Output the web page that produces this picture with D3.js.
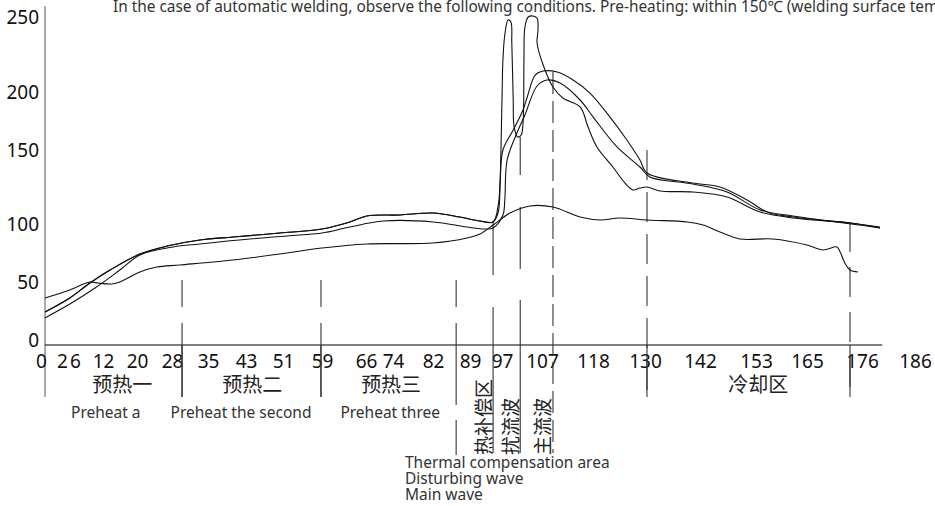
<!DOCTYPE html>
<html>
<head>
<meta charset="utf-8">
<script src="https://cdn.jsdelivr.net/npm/d3@7"></script>
<style>
  body { margin: 0; background: #fff; }
  text { font-family: "Noto Sans", "Noto Sans CJK SC", sans-serif; }
</style>
</head>
<body>
<svg id="chart" width="935" height="506"></svg>
<script>
const xTicks = [0, 2, 6, 12, 20, 28, 35, 43, 51, 59, 66, 74, 82, 89, 97, 107, 118, 130, 142, 153, 165, 176, 186];
const yTicks = [0, 50, 100, 150, 200, 250];

// preheat part, two traces (probe 1 and 2 run together here)
const preheatA = [[0,24.1],[5.3,36.2],[9.6,49.1],[13.9,60.3],[20.3,74.1],[26.1,81.0],[33.1,86.2],[40.2,88.8],[50.2,92.2],[59.2,95.7],[65.2,101.4],[68.8,105.4],[75.9,106.1],[83.0,107.4],[88.7,104.7],[93.0,102.0],[95.8,101.4]];
const preheatB = [[0,19.0],[5.3,31.0],[10.7,44.8],[16.0,60.3],[20.3,73.3],[27.4,80.2],[33.1,82.8],[43.8,87.1],[54.5,90.5],[59.2,92.2],[65.2,97.4],[72.3,102.0],[83.0,101.4],[90.2,97.4],[94.1,95.7],[95.8,96.6]];

const waveProbe1 = [[96.9,108.1],[97.3,129.7],[97.7,193.1],[97.9,221.3],[98.3,238],[99.0,248],[99.6,246.7],[99.8,232.7],[100.1,193.1],[100.3,169.8],[101.1,161.2],[101.8,162.9],[102.2,173.3],[102.4,221.3],[102.6,243.3],[103.3,250],[104.3,250.7],[105.2,249.3],[105.4,241.3],[105.2,232.7],[106.5,218],[108.6,203.3],[110.7,194.8],[114.4,187.1],[116.1,169.8],[118.0,152.6],[121.4,138.5],[124.0,127.7],[125.7,123.0],[127.2,124.3],[128.7,125.0],[131.5,122.3],[138.5,121.6],[145.8,118.2],[152.9,108.1],[159.9,104.1],[172.1,100.7],[178.5,96.6]];
const waveProbe2 = [[96.9,112.8],[97.3,127.7],[97.9,150],[100.1,167.2],[102.2,184.5],[103.1,195.7],[104.8,211.3],[106.5,214],[109.5,213.3],[112.9,208],[116.5,199.1],[120.8,178.4],[124.4,158.6],[127.2,143.2],[128.7,134.5],[138.5,127.7],[144.3,125.0],[150.1,116.2],[154.4,108.1],[159.9,104.7],[172.1,100.7],[178.5,97.4]];
const waveProbe3 = [[97.9,106.1],[98.3,116.2],[98.8,143.2],[100.9,164.7],[102.6,180.2],[105.2,204],[107.3,208],[110.1,206],[114.4,193.1],[117.2,178.4],[122.3,152.6],[127.2,138.5],[129.3,131.8],[138.5,127.0],[145.8,121.6],[152.9,109.5],[159.9,105.4],[174.2,99.1],[178.5,96.6]];
const probe4 = [[0,36.2],[5.3,43.1],[9.6,50],[11.3,49.1],[14.3,48.3],[16.0,50],[20.3,58.6],[23.9,62.9],[28.9,64.7],[40.2,69.0],[50.2,74.1],[59.2,79.3],[68.8,82.8],[83.0,83.6],[90.2,87.9],[93.0,91.4],[95.8,99.1],[99.4,107.4],[103.7,112.2],[108.6,111.5],[114.4,104.7],[118.7,102.7],[122.9,104.1],[128.7,102.7],[137.3,101.4],[140.7,99.1],[144.3,93.1],[148.6,87.1],[155.6,87.1],[162.9,81.9],[166.3,77.6],[169.3,80.2],[170.0,75.9],[171.0,66.4],[172.1,60.3],[173.8,58.6]];

const guideX = [29.3, 59.0, 87.9, 95.8, 101.6, 108.6, 128.7, 172.1];
const guideTop = [51.7, 51.7, 51.7, 101.4, 161.2, 213.3, 150, 101.4];

const zoneNames = ["预热一", "预热二", "预热三", "冷却区"];
const zoneMid = [16.5, 44.3, 74.0, 152.5];
const zoneNamesEn = ["Preheat a", "Preheat the second", "Preheat three"];
const zoneMidEn = [13.0, 41.9, 73.8];
const waveNames = ["热补偿区", "扰流波", "主流波"];
const waveNamesEn = ["Thermal compensation area", "Disturbing wave", "Main wave"];
const axisEnd = 179;
const title = "In the case of automatic welding, observe the following conditions. Pre-heating: within 150℃ (welding surface temperature)";

const svg = d3.select("#chart");

const x = d3.scaleLinear().domain([0, 186]).range([45, 915]);
// the printed tick labels are spaced unevenly on the original sheet
const xLabel = d3.scaleLinear().domain(xTicks)
  .range([41, 62, 75, 103, 137, 172, 208, 246, 283, 322, 366, 393, 433, 470, 502, 542, 593, 645, 700, 756, 807, 862, 915]);
const y = d3.scaleLinear().domain(yTicks).range([340, 282, 224, 150, 92, 17]);
const axisY = 345;

// guide lines: bottom end and dash pattern
const guideStyle = [
  {bottom: 397, dash: "27,16,300"},
  {bottom: 397, dash: "27,16,300"},
  {bottom: 455, dash: "27,16,82,15,60"},
  {bottom: 453, dash: "53,32,300"},
  {bottom: 453, dash: "38,32,62,31,300"},
  {bottom: 453, dash: "22,7"},
  {bottom: 397, dash: "30,12"},
  {bottom: 397, dash: "30,15"}
];

svg.append("text")
  .attr("x", 113).attr("y", 12)
  .attr("font-size", 15.4)
  .attr("fill", "#333")
  .text(title);

// axes lines
svg.append("line")
  .attr("x1", x(0)).attr("x2", x(0))
  .attr("y1", 6).attr("y2", 397)
  .attr("stroke", "#555").attr("stroke-width", 1);
svg.append("line")
  .attr("x1", x(0)).attr("x2", x(axisEnd))
  .attr("y1", axisY).attr("y2", axisY)
  .attr("stroke", "#000").attr("stroke-width", 1.2);

const xAxis = svg.append("g")
  .attr("transform", `translate(0,${axisY})`)
  .call(d3.axisBottom(xLabel).tickValues(xTicks).tickSize(0).tickPadding(10).tickFormat(d3.format("d")));
xAxis.select(".domain").remove();
xAxis.selectAll("text").attr("font-size", 19).attr("fill", "#111")
  .style("font-family", "'Noto Sans', sans-serif");

const yAxis = svg.append("g")
  .attr("transform", `translate(${x(0)},0)`)
  .call(d3.axisLeft(y).tickValues(yTicks).tickSize(0).tickPadding(6));
yAxis.select(".domain").remove();
yAxis.selectAll("text").attr("font-size", 19).attr("fill", "#111")
  .style("font-family", "'Noto Sans', sans-serif");

// guide lines
svg.append("g").selectAll("line")
  .data(guideX)
  .join("line")
  .attr("x1", d => x(d)).attr("x2", d => x(d))
  .attr("y1", (d, i) => y(guideTop[i]))
  .attr("y2", (d, i) => guideStyle[i].bottom)
  .attr("stroke", "#333").attr("stroke-width", 1.1)
  .attr("stroke-dasharray", (d, i) => guideStyle[i].dash);

// below-axis zone separators
svg.append("g").selectAll("line")
  .data([guideX[0], guideX[1], guideX[6], guideX[7]])
  .join("line")
  .attr("x1", d => x(d)).attr("x2", d => x(d))
  .attr("y1", axisY).attr("y2", 397)
  .attr("stroke", "#333").attr("stroke-width", 1.1);

// curves
const line = d3.line()
  .x(d => x(d[0]))
  .y(d => y(d[1]))
  .curve(d3.curveCatmullRom.alpha(0.5));

const traces = [
  preheatA.concat(waveProbe1),
  preheatA.concat(waveProbe2),
  preheatB.concat(waveProbe3),
  probe4
];

svg.append("g").selectAll("path")
  .data(traces)
  .join("path")
  .attr("fill", "none")
  .attr("stroke", "#111")
  .attr("stroke-width", 1.1)
  .attr("stroke-linejoin", "round")
  .attr("d", line);

// zone labels
svg.append("g").selectAll("text")
  .data(zoneNames)
  .join("text")
  .attr("x", (d, i) => x(zoneMid[i]))
  .attr("y", 383)
  .attr("dominant-baseline", "central")
  .attr("text-anchor", "middle")
  .attr("font-size", 20)
  .attr("fill", "#222")
  .style("font-family", "'Noto Sans CJK SC', sans-serif")
  .text(d => d);

svg.append("g").selectAll("text")
  .data(zoneNamesEn)
  .join("text")
  .attr("x", (d, i) => x(zoneMidEn[i]))
  .attr("y", 412)
  .attr("dominant-baseline", "central")
  .attr("text-anchor", "middle")
  .attr("font-size", 15.5)
  .attr("fill", "#333")
  .text(d => d);

// vertical labels for the wave zone
svg.append("g").selectAll("text")
  .data(waveNames)
  .join("text")
  .attr("transform", (d, i) => `translate(${x(guideX[i + 3]) - 11},455) rotate(-90)`)
  .attr("dominant-baseline", "central")
  .attr("font-size", 19)
  .attr("fill", "#222")
  .style("font-family", "'Noto Sans CJK SC', sans-serif")
  .text(d => d);

svg.append("g").selectAll("text")
  .data(waveNamesEn)
  .join("text")
  .attr("x", 405)
  .attr("y", (d, i) => 462 + i * 16)
  .attr("dominant-baseline", "central")
  .attr("font-size", 15.5)
  .attr("fill", "#333")
  .text(d => d);
</script>
</body>
</html>
